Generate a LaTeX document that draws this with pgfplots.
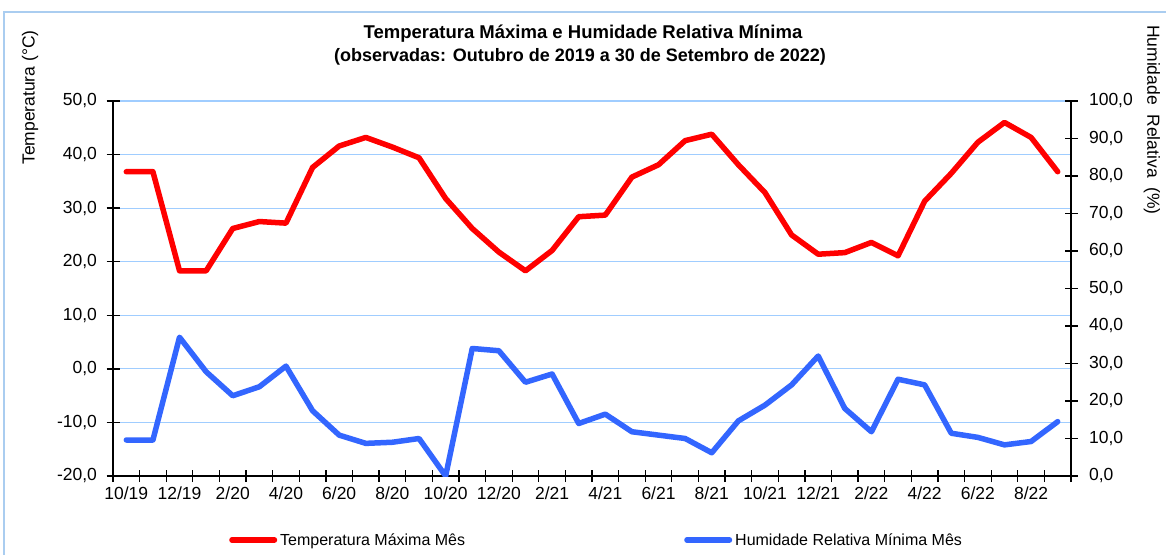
\documentclass[border=0pt]{standalone}
\usepackage{pgfplots}
\pgfplotsset{compat=1.18}
\usepackage{fontspec}
\setmainfont{Liberation Sans}
\definecolor{tred}{RGB}{255,0,0}
\definecolor{hblue}{RGB}{51,102,255}
\definecolor{gridblue}{RGB}{160,205,255}
\definecolor{frameblue}{RGB}{170,205,240}

\pgfplotstableread{
i T H
0 36.8 9.6
1 36.8 9.6
2 18.3 37.0
3 18.3 27.8
4 26.2 21.4
5 27.5 23.8
6 27.2 29.3
7 37.6 17.4
8 41.6 10.9
9 43.2 8.7
10 41.4 9.0
11 39.4 10.0
12 31.8 0.0
13 26.2 34.0
14 21.8 33.4
15 18.3 25.0
16 22.1 27.2
17 28.4 14.0
18 28.7 16.5
19 35.8 11.8
20 38.1 10.9
21 42.6 10.0
22 43.8 6.2
23 38.1 14.7
24 32.9 18.9
25 25.0 24.3
26 21.4 32.0
27 21.7 18.0
28 23.6 11.8
29 21.1 25.8
30 31.3 24.3
31 36.5 11.4
32 42.3 10.3
33 46.0 8.3
34 43.2 9.2
35 36.8 14.5
}\datatable

\begin{document}
\begin{tikzpicture}
\useasboundingbox (0,0) rectangle (1166pt,554pt);
\fill[white] (0,0) rectangle (1166pt,554pt);
\draw[frameblue, line width=1.2pt] (4pt,-2pt) -- (4pt,542pt) -- (1170pt,542pt);

\pgfplotsset{
  every axis/.append style={
    scale only axis, width=958pt, height=375pt,
    at={(113pt,78pt)}, anchor=south west,
    xmin=-0.5, xmax=35.5,
    tick label style={font=\fontsize{17.5}{20}\selectfont},
    /pgf/number format/assume math mode=true,
    axis line style={black, line width=1.3pt},
    tick align=center,
    major tick length=13pt,
    tick style={black, line width=1.3pt},
  }
}

\begin{axis}[
  axis y line*=left,
  axis x line*=bottom,
  ymin=-20, ymax=50,
  ytick={-20,-10,...,50},
  yticklabel style={xshift=-6pt, /pgf/number format/.cd, fixed, fixed zerofill, precision=1, use comma},
  xticklabel style={yshift=-1pt},
  ymajorgrids,
  grid style={gridblue, line width=1.2pt},
  xtick={0,2,...,34},
  xticklabels={10/19,12/19,2/20,4/20,6/20,8/20,10/20,12/20,2/21,4/21,6/21,8/21,10/21,12/21,2/22,4/22,6/22,8/22},
  major x tick style={draw=none},
  minor xtick={-0.5,0.5,...,35.5},
  minor tick length=12pt,
  minor x tick style={black, line width=1.3pt},
  legend columns=2,
  legend style={at={(0.12109,-0.1707)}, anchor=west, draw=none, fill=none,
    inner sep=0pt, column sep=3pt, nodes={inner sep=0pt},
    font=\fontsize{16}{19}\selectfont},
  legend cell align=left,
  legend image code/.code={\draw[#1] (2.75pt,0pt) -- (45.25pt,0pt);},
]
\addplot[tred, line width=5.5pt, line join=round, line cap=round] table[x=i, y=T] {\datatable};
\addlegendentry{\makebox[401pt][l]{Temperatura Máxima Mês}}
\addlegendimage{hblue, line width=5.5pt, line cap=round}
\addlegendentry{Humidade Relativa Mínima Mês}
\end{axis}

\begin{axis}[
  axis y line*=right,
  axis x line=none,
  ymin=0, ymax=100,
  ytick={0,10,...,100},
  yticklabel style={xshift=8pt, /pgf/number format/.cd, fixed, fixed zerofill, precision=1, use comma},
]
\addplot[hblue, line width=5.5pt, line join=round, line cap=round] table[x=i, y=H] {\datatable};
\end{axis}

\node[font=\bfseries\fontsize{18.5}{21}\selectfont] at (583pt,520pt) {Temperatura Máxima e Humidade Relativa Mínima};
\node[font=\bfseries\fontsize{18}{21}\selectfont] at (580pt,497pt) {(observadas: Outubro de 2019 a 30 de Setembro de 2022)};
\node[font=\fontsize{17.5}{20}\selectfont, rotate=90] at (30pt,456.5pt) {Temperatura (°C)};
\node[font=\fontsize{17.5}{20}\selectfont, rotate=-90] at (1152pt,434pt) {Humidade\ \ Relativa\ \ (\%)};
\end{tikzpicture}
\end{document}
